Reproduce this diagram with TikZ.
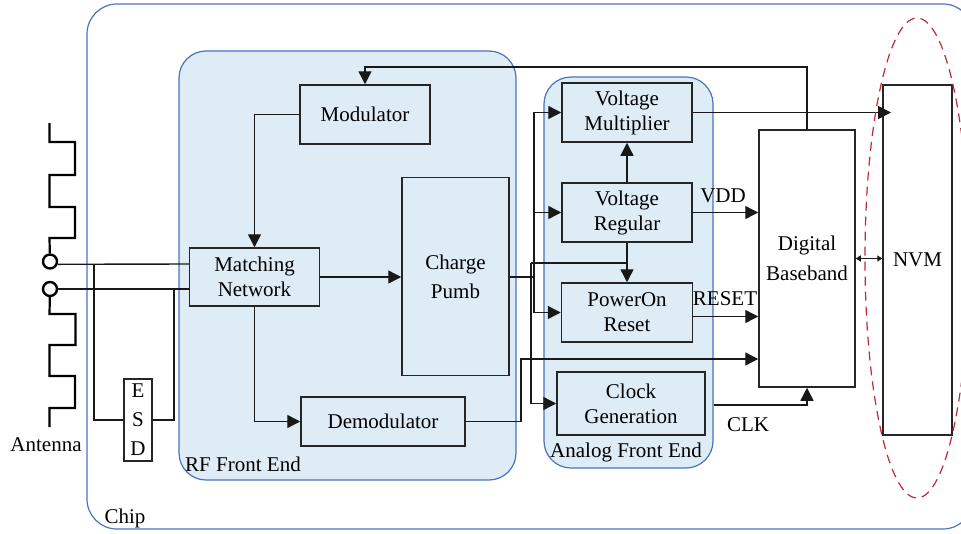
\documentclass[tikz,border=0pt]{standalone}
\usepackage{fontspec}
\setmainfont{Liberation Serif}
\usetikzlibrary{arrows.meta}
\definecolor{panelfill}{HTML}{DEECF6}
\definecolor{panelline}{HTML}{4A74BC}
\definecolor{nvmring}{HTML}{BE2A3C}
\newcommand\chipnodes{
        \node [panel, name=chip, fill=white, rounded corners=30pt, minimum width=886pt, minimum height=525pt] at (530,266.5) {};
        \node [panel, name=rfpanel, minimum width=337pt, minimum height=429pt] at (347.5,265.5) {};
        \node [panel, name=afepanel, minimum width=169pt, minimum height=391pt] at (628.5,272.5) {};
        \node [block, name=modulator, minimum width=130pt, minimum height=59pt] at (365,114.5) {Modulator};
        \node [block, name=matching, minimum width=130pt, minimum height=58pt] at (254.5,277) {Matching\\Network};
        \node [block, name=charge, minimum width=107pt, minimum height=198pt] at (455.5,276.5) {Charge\\[4pt]Pumb};
        \node [block, name=demod, minimum width=164pt, minimum height=49pt] at (383,421.5) {Demodulator};
        \node [block, name=multiplier, minimum width=130pt, minimum height=59pt] at (627,112.5) {Voltage\\Multiplier};
        \node [block, name=regular, minimum width=130pt, minimum height=59pt] at (627,212.5) {Voltage\\Regular};
        \node [block, name=poweron, minimum width=131pt, minimum height=59pt] at (627,312.5) {PowerOn\\Reset};
        \node [block, name=clockgen, minimum width=148pt, minimum height=63pt] at (631,403.5) {Clock\\Generation};
        \node [block, name=baseband, fill=white, minimum width=96pt, minimum height=257pt] at (807,258.5) {Digital\\[5pt]Baseband};
        \node [block, name=nvm, fill=white, minimum width=69pt, minimum height=350pt] at (917.5,260) {NVM};
        \node [block, name=esd, fill=white, minimum width=28pt, minimum height=82pt] at (138,420) {E\\[4pt]S\\[4pt]D};
        \node [port, name=porta] at (50,261.5) {};
        \node [port, name=portb] at (50,289) {};
        \node [label text, name=antennalabel] at (46,444.5) {Antenna};
        \node [label text, name=chiplabel] at (125,518.5) {Chip};
        \node [label text, name=rflabel] at (243,464) {RF Front End};
        \node [label text, name=afelabel] at (626,452) {Analog Front End};
        \node [label text, name=vddlabel] at (723,196) {VDD};
        \node [label text, name=resetlabel] at (725,299) {RESET};
        \node [label text, name=clklabel] at (748,425) {CLK};
        \coordinate (tapa) at (94,264);
        \coordinate (tapb) at (174,289);
        \coordinate (busa) at (534,277);
        \coordinate (busb) at (531,263);
        \coordinate (clkout) at (714,405);
        \coordinate (demodup) at (521,359);
        \coordinate (baseup) at (807,67);
        \coordinate (nvmin) at (891,112.5);
}
\newcommand\chipwires{
        \draw [antenna] (49.5,123) -- (49.5,142) -- (75,142) -- (75,175) -- (49.5,175) -- (49.5,207) -- (75,207) -- (75,238) -- (49.5,238) -- (porta);
        \draw [antenna] (portb) -- (49.5,314) -- (75.5,314) -- (75.5,345) -- (49.5,345) -- (49.5,376) -- (75,376) -- (75,408) -- (49.5,408) -- (49.5,427);
        \begin{scope}[wire]
          \draw (porta.-20) -- (matching.west |- tapa);
          \draw (portb) -- (matching.west |- portb);
          \draw (tapa) |- (esd.west);
          \draw (esd.east) -| (tapb);
          \draw [->] (modulator.west) -| (matching.north);
          \draw [->] (matching.east) -- (charge.west |- matching.east);
          \draw [->] (matching.south) |- (demod.west);
          \draw [->] (demod.east) -| (demodup) -- (baseband.west |- demodup);
          \draw (charge.east |- busa) -- (busa);
          \draw [->] (busa) |- (multiplier.west);
          \draw [->] (busa) |- (regular.west);
          \draw [->] (busa) |- (poweron.west);
          \draw [->] (regular.north) -- (multiplier.south);
          \draw [->] (regular.south) -- (poweron.north);
          \draw (regular.south |- busb) -- (busb);
          \draw [->] (busb) |- (clockgen.west);
          \draw [->] (multiplier.east) -- (nvmin);
          \draw [->] (regular.east) -- (baseband.west |- regular.east);
          \draw [->] (poweron.east |- 0,316.5) -- (baseband.west |- 0,316.5);
          \draw [->] (clkout) -| (baseband.south);
          \draw [->] (baseband.north) -- (baseup) -| (modulator.north);
          \draw [small both] (baseband.east) -- (baseband.east -| nvm.west);
        \end{scope}
}
\begin{document}
\begin{tikzpicture}[x=1pt, y=-1pt,
        panel/.style={draw=panelline, fill=panelfill, line width=1.2pt, rounded corners=27pt, inner sep=0pt},
        block/.style={draw=black!85, fill=panelfill, line width=1.5pt, inner sep=0pt, align=center, font=\fontsize{21}{25}\selectfont},
        port/.style={circle, draw=black, fill=white, line width=2.4pt, minimum size=14pt, inner sep=0pt},
        label text/.style={inner sep=0pt, font=\fontsize{21}{25}\selectfont},
        antenna/.style={line width=2.2pt},
        wire/.style={line width=1.4pt, black!90, >={Triangle[length=13pt,width=13pt]}},
        small both/.style={<->, >={Triangle[length=5pt,width=6pt]}},
        ring/.style={draw=nvmring, line width=1.2pt, dash pattern=on 9pt off 6pt}
        ]
        \path [use as bounding box, clip] (0,0) rectangle (961,533);
        \chipnodes
        \chipwires
        \draw [ring] (917,258) ellipse [x radius=52, y radius=240];
      \end{tikzpicture}
\end{document}
